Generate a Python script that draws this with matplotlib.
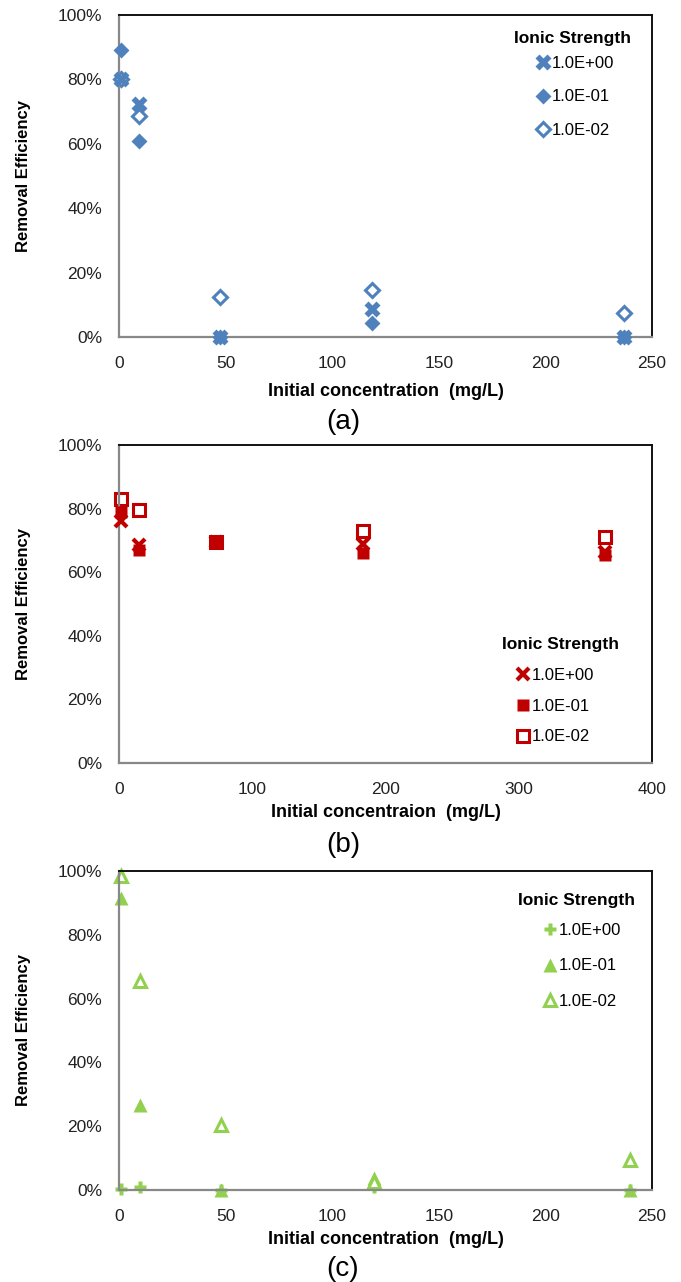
import matplotlib
matplotlib.use('Agg')
import matplotlib.pyplot as plt
from matplotlib.ticker import PercentFormatter

plt.rcParams['font.family'] = ['Liberation Sans', 'DejaVu Sans']

# === Data ===
legend_labels = ['1.0E+00', '1.0E-01', '1.0E-02']

# (a)
conc_a = [1, 9.5, 47.5, 118.5, 237]
eff_a_1 = [80, 72.5, 0, 8.6, 0]
eff_a_2 = [89, 61, 0, 4.3, 0]
eff_a_3 = [80, 68.7, 12.5, 14.6, 7.4]

# (b)
conc_b = [1.5, 15, 73, 183, 365]
eff_b_1 = [76, 68.5, 69.5, 69, 66.5]
eff_b_2 = [79, 67, 69.5, 66, 65.5]
eff_b_3 = [83, 79.7, 69.5, 73, 71.2]

# (c)
conc_c = [1, 10, 48, 119.5, 239.5]
eff_c_1 = [0.3, 1, 0, 1, 0]
eff_c_2 = [91.6, 26.6, 0, 3.7, 0]
eff_c_3 = [98.4, 65.6, 20.4, 2.5, 9.4]

BLUE = '#4F81BD'
RED = '#C00000'
GREEN = '#92D050'

W, H = 681, 1282
fig = plt.figure(figsize=(W / 100, H / 100), dpi=100)


def make_axes(top_px, bottom_px):
    left, right = 119, 652
    return fig.add_axes([left / W, 1 - bottom_px / H, (right - left) / W, (bottom_px - top_px) / H])


def style_axes(ax, xmax, xstep, xlabel, labelpad=5):
    ax.set_xlim(0, xmax)
    ax.set_ylim(0, 100)
    ax.set_xticks(range(0, xmax + 1, xstep))
    ax.set_yticks(range(0, 101, 20))
    ax.yaxis.set_major_formatter(PercentFormatter(100, decimals=0))
    ax.tick_params(length=0, labelsize=12.5, colors='#222222')
    ax.tick_params(axis='x', pad=14)
    ax.tick_params(axis='y', pad=12)
    for side in ['left', 'bottom']:
        ax.spines[side].set_color('#888888')
        ax.spines[side].set_linewidth(1.6)
    for side in ['top', 'right']:
        ax.spines[side].set_color('#111111')
        ax.spines[side].set_linewidth(1.4)
    ax.set_xlabel(xlabel, fontsize=13, fontweight='bold', labelpad=labelpad)
    ax.set_ylabel('Removal Efficiency', fontsize=12, fontweight='bold', labelpad=19)


def place_legend(ax, title_xy, marker_x, mid_y, spacing):
    handles, labels = ax.get_legend_handles_labels()
    pairs = sorted(zip(handles, labels), key=lambda p: legend_labels.index(p[1]))
    inv = ax.transAxes.inverted()
    tx, ty = inv.transform((title_xy[0], H - title_xy[1]))
    ax.text(tx, ty, 'Ionic Strength', transform=ax.transAxes, fontsize=12.5,
            fontweight='bold', ha='center', va='center')
    lx, ly = inv.transform((marker_x, H - mid_y))
    ax.legend([p[0] for p in pairs], [p[1] for p in pairs], loc='center left',
              bbox_to_anchor=(lx, ly), frameon=False, fontsize=12, handlelength=0.8,
              handletextpad=0.15, labelspacing=spacing, borderaxespad=0, borderpad=0)


# === Panel (a) ===
ax1 = make_axes(15, 337)
ax1.plot(conc_a, eff_a_3, 'D', color=BLUE, ms=7, mfc='white', mew=2.2, label=legend_labels[2],
         clip_on=False, zorder=2)
ax1.plot(conc_a, eff_a_1, 'X', color=BLUE, ms=11, mec='none', label=legend_labels[0], clip_on=False, zorder=3)
ax1.plot(conc_a, eff_a_2, 'D', color=BLUE, ms=8, mec='none', label=legend_labels[1], clip_on=False, zorder=4)
style_axes(ax1, 250, 50, 'Initial concentration  (mg/L)', labelpad=8)
place_legend(ax1, (573, 38), 536, 97, 1.1)

# === Panel (b) ===
ax2 = make_axes(445, 763)
ax2.plot(conc_b, eff_b_3, 's', color=RED, ms=8, mfc='white', mew=2.2, label=legend_labels[2],
         clip_on=False, zorder=2)
ax2.plot(conc_b, eff_b_1, 'x', color=RED, ms=9, mew=3, label=legend_labels[0], clip_on=False, zorder=3)
ax2.plot(conc_b, eff_b_2, 's', color=RED, ms=9, mec='none', label=legend_labels[1], clip_on=False, zorder=4)
style_axes(ax2, 400, 100, 'Initial concentraion  (mg/L)')
place_legend(ax2, (560, 645), 516, 706, 0.95)

# === Panel (c) ===
ax3 = make_axes(871, 1190)
ax3.plot(conc_c, eff_c_1, 'P', color=GREEN, ms=9, mec='none', label=legend_labels[0], clip_on=False)
ax3.plot(conc_c, eff_c_2, '^', color=GREEN, ms=10, mec='none', label=legend_labels[1], clip_on=False)
ax3.plot(conc_c, eff_c_3, '^', color=GREEN, ms=9, mfc='white', mew=2.2, label=legend_labels[2], clip_on=False)
style_axes(ax3, 250, 50, 'Initial concentration  (mg/L)')
place_legend(ax3, (577, 900), 543, 966, 1.25)

# Panel letters
for y_px, letter in [(422, '(a)'), (845, '(b)'), (1269, '(c)')]:
    fig.text(343 / W, 1 - y_px / H, letter, fontsize=20, ha='center', va='center')

plt.savefig('out.png', dpi=100, facecolor='white')
plt.close()
